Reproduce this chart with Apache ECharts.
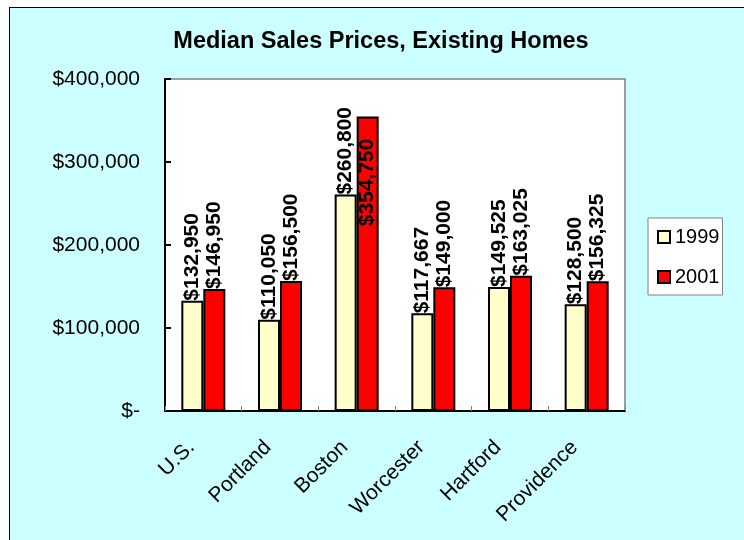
<!DOCTYPE html>
<html>
<head>
<meta charset="utf-8">
<script src="https://cdn.jsdelivr.net/npm/echarts@6/dist/echarts.min.js"></script>
<style>
html,body{margin:0;padding:0;background:#fff;}
#frame{position:absolute;left:9px;top:7px;width:735px;height:533px;background:#CCFFFF;border-left:1px solid #000;border-top:1px solid #000;box-sizing:border-box;}
#chart{position:absolute;left:0;top:0;width:744px;height:540px;}
</style>
</head>
<body>
<div id="frame"></div>
<div id="chart"></div>
<script>
const categories = ['U.S.', 'Portland', 'Boston', 'Worcester', 'Hartford', 'Providence'];
const values1999 = [132950, 110050, 260800, 117667, 149525, 128500];
const values2001 = [146950, 156500, 354750, 149000, 163025, 156325];
const seriesNames = ['1999', '2001'];
const yTicks = [0, 100000, 200000, 300000, 400000];

const FONT = '"Liberation Sans", Arial, sans-serif';
function money(v) {
  if (v === 0) return '$-';
  return '$' + v.toLocaleString('en-US');
}
const chart = echarts.init(document.getElementById('chart'), null, {renderer: 'canvas'});

function labelFor(v) {
  if (v > 340000) {
    return {
      value: v,
      label: {position: ['50%', 20], align: 'right', verticalAlign: 'middle', distance: 0}
    };
  }
  return v;
}

const baseLabel = {
  show: true,
  position: 'top',
  rotate: 90,
  align: 'left',
  verticalAlign: 'middle',
  distance: 2,
  offset: [-2, 0],
  color: '#000',
  fontFamily: FONT,
  fontSize: 21,
  fontWeight: 'bold',
  formatter: p => money(p.value)
};

chart.setOption({
  backgroundColor: 'transparent',
  animation: false,
  title: {
    text: 'Median Sales Prices, Existing Homes',
    left: 376, top: 25, textAlign: 'center',
    textStyle: {fontFamily: FONT, fontSize: 23.5, fontWeight: 'bold', color: '#000'}
  },
  legend: {
    orient: 'vertical',
    left: 648, top: 218,
    padding: [9, 3, 8, 9],
    itemGap: 20,
    backgroundColor: '#fff',
    borderColor: '#808080',
    borderWidth: 1,
    itemWidth: 12, itemHeight: 12,
    icon: 'rect',
    textStyle: {fontFamily: FONT, fontSize: 20, lineHeight: 20, color: '#000'},
    data: seriesNames
  },
  grid: {left: 165, right: 119, top: 79, bottom: 129, show: true, backgroundColor: '#fff', borderColor: '#808080', borderWidth: 1.5},
  xAxis: {
    type: 'category',
    data: categories,
    axisLine: {lineStyle: {color: '#000', width: 2}},
    axisTick: {show: true, inside: true, length: 5, lineStyle: {color: '#808080'}},
    axisLabel: {
      rotate: 45, margin: 21, interval: 0,
      formatter: v => '{a|' + v + '}',
      rich: {a: {fontFamily: FONT, fontSize: 21, color: '#000', padding: [0, 17, 0, 0]}}
    }
  },
  yAxis: {
    type: 'value',
    min: 0, max: 400000, interval: 100000,
    splitLine: {show: false},
    axisLine: {show: true, lineStyle: {color: '#000', width: 2}},
    axisTick: {show: true, inside: true, length: 6, lineStyle: {color: '#000', width: 2}},
    axisLabel: {margin: 25, fontFamily: FONT, fontSize: 21, color: '#000', formatter: v => money(v)}
  },
  series: [
    {
      name: seriesNames[0], type: 'bar', barWidth: 22, barGap: '0%',
      itemStyle: {color: '#FFFFCC', borderColor: '#000', borderWidth: 2},
      label: baseLabel,
      data: values1999
    },
    {
      name: seriesNames[1], type: 'bar', barWidth: 22, barGap: '0%',
      itemStyle: {color: '#FF0000', borderColor: '#000', borderWidth: 2},
      label: baseLabel,
      data: values2001.map(v => labelFor(v))
    }
  ]
});
</script>
</body>
</html>
